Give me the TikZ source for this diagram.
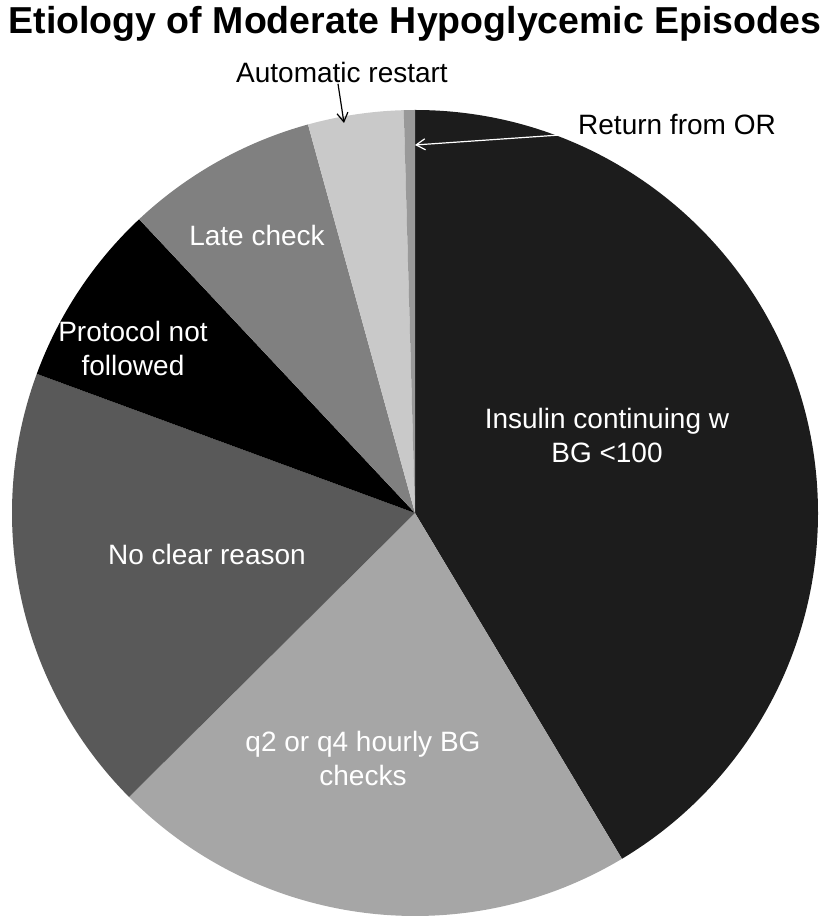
\documentclass[tikz,border=0pt]{standalone}
\usepackage{fontspec}
\setmainfont{Liberation Sans}
\usetikzlibrary{arrows.meta, positioning}
\definecolor{insulingray}{gray}{0.11}
\definecolor{checksgray}{gray}{0.65}
\definecolor{reasongray}{gray}{0.35}
\definecolor{protocolgray}{gray}{0.0}
\definecolor{lategray}{gray}{0.50}
\definecolor{restartgray}{gray}{0.79}
\definecolor{returngray}{gray}{0.60}
\tikzset{
  >={Straight Barb[length=9pt, width=11pt]},
}

\begin{document}
\begin{tikzpicture}[x=1pt, y=1pt,
    slicelabel/.style={text=white, align=center, font=\fontsize{28}{34}\selectfont},
    outlabel/.style={text=black, align=center, font=\fontsize{28}{34}\selectfont},
    pointer/.style={->, line width=1.2pt},
    title/.style={font=\bfseries\fontsize{37.5}{40}\selectfont}]
  \useasboundingbox (-415,-407) rectangle (414,513);
  % pie slices, clockwise from the top
  \foreach \from/\to/\shade in {90/-59.1/insulingray, -59.1/-135.2/checksgray,
      224.8/159.8/reasongray, 159.8/133.2/protocolgray, 133.2/105.4/lategray,
      105.4/91.6/restartgray, 91.6/90/returngray}
    \fill [\shade] (0,0) -- (\from:403) arc [start angle=\from, end angle=\to, radius=403] -- cycle;
  \node [title] (title) at (0,489) {Etiology of Moderate Hypoglycemic Episodes};
  \node [slicelabel] (insulin) at (192,78) {Insulin continuing w\\BG <100};
  \node [slicelabel] (checks) at (-52,-245) {q2 or q4 hourly BG\\checks};
  \node [slicelabel] (reason) at (-208,-41) {No clear reason};
  \node [slicelabel] (protocol) at (-282,165) {Protocol not\\followed};
  \node [slicelabel] (late) at (-158,278) {Late check};
  \node [outlabel] (restart) at (-73,440) {Automatic restart};
  \node [outlabel] (return) at (262,388) {Return from OR};
  \coordinate (restarttip) at (-71,390);
  \coordinate (returntip) at (0,368);
  \draw [pointer] (restart.south) ++(-4,3) -- (restarttip);
  \draw [pointer, white] (return.west) ++(0,-9) -- (returntip);
\end{tikzpicture}
\end{document}
